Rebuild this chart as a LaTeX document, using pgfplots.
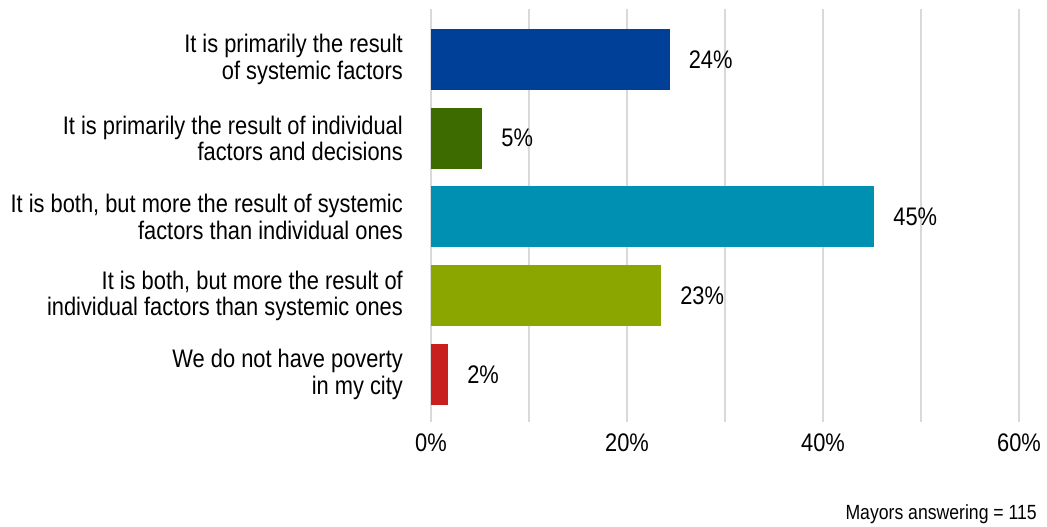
\documentclass[border=0pt]{standalone}
\usepackage{fontspec}
\setmainfont{Liberation Sans}[FakeStretch=0.86]
\usepackage{pgfplots}
\pgfplotsset{compat=1.18}

\definecolor{cblue}{RGB}{0,64,152}
\definecolor{cgreen}{RGB}{61,107,0}
\definecolor{cteal}{RGB}{0,144,178}
\definecolor{colive}{RGB}{140,166,0}
\definecolor{cred}{RGB}{200,32,30}
\definecolor{cgrid}{RGB}{217,217,217}

\begin{document}
\begin{tikzpicture}[font=\fontsize{25.4}{26.6}\selectfont]
\begin{axis}[
  at={(431pt,105pt)}, anchor=south west,
  scale only axis,
  width=588pt, height=413pt,
  xbar, bar width=61pt, bar shift=0pt,
  xmin=0, xmax=60,
  ymin=-0.641, ymax=4.603,
  y dir=reverse,
  axis line style={draw=none},
  major tick length=0pt, minor tick length=0pt,
  xtick={0,20,40,60},
  minor xtick={10,30,50},
  xticklabels={0\%,20\%,40\%,60\%},
  xmajorgrids, xminorgrids,
  major grid style={cgrid, line width=1.4pt},
  minor grid style={cgrid, line width=1.4pt},
  ytick={0,1,2,3,4},
  yticklabels={
    {It is primarily the result\\of systemic factors},
    {It is primarily the result of individual\\factors and decisions},
    {It is both, but more the result of systemic\\factors than individual ones},
    {It is both, but more the result of\\individual factors than systemic ones},
    {We do not have poverty\\in my city}},
  yticklabel style={align=right, inner sep=0pt, xshift=-28pt},
  xticklabel style={inner sep=0pt, anchor=north, yshift=-12pt},
  /pgf/number format/assume math mode=true,
  nodes near coords={\pgfmathprintnumber[fixed,precision=0]{\pgfplotspointmeta}\%},
  nodes near coords style={anchor=west, inner sep=0pt, xshift=19pt, text=black},
]
\addplot[fill=cblue, draw=none] coordinates {(24.35,0)};
\addplot[fill=cgreen, draw=none] coordinates {(5.22,1)};
\addplot[fill=cteal, draw=none] coordinates {(45.22,2)};
\addplot[fill=colive, draw=none] coordinates {(23.48,3)};
\addplot[fill=cred, draw=none] coordinates {(1.74,4)};
\end{axis}
\node[anchor=base east, inner sep=0pt, font=\fontsize{20.5}{22}\selectfont] at (1037pt,7pt) {Mayors answering = 115};
\pgfresetboundingbox
\useasboundingbox (0,0) rectangle (1047pt,527pt);
\end{tikzpicture}
\end{document}
